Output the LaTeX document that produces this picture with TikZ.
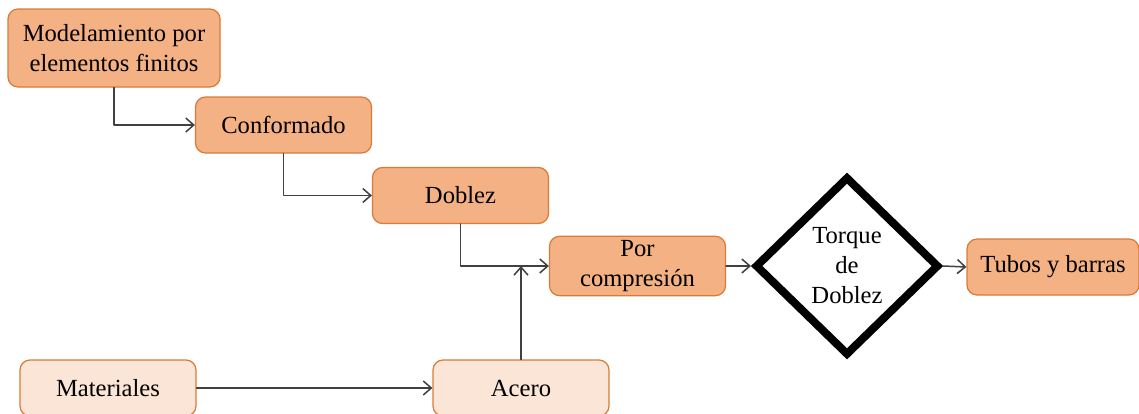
\documentclass[tikz,border=0pt]{standalone}
\usepackage{fontspec}
\setmainfont{Liberation Serif}
\usetikzlibrary{shapes.geometric,arrows.meta}
\definecolor{naranja}{HTML}{F4B183}
\definecolor{naranjaclaro}{HTML}{FBE5D6}
\definecolor{borde}{HTML}{D97A37}
\definecolor{linea}{HTML}{404040}
\begin{document}
\begin{tikzpicture}[x=0.5pt,y=-0.5pt,line cap=round,line join=round,>={Straight Barb[length=4pt,width=7pt]},
	caja/.style={draw=borde,fill=naranja,rounded corners=5pt,line width=0.6pt,minimum width=88pt,minimum height=28pt,align=center,inner sep=2pt,font=\fontsize{12.3}{15}\selectfont},
	cajaclara/.style={caja,fill=naranjaclaro},
	flecha/.style={->,draw=linea,line width=0.75pt}]
	\useasboundingbox (0,0) rectangle (1139,413);
	\node[caja,minimum width=106pt,minimum height=39pt] (modelo) at (114,48) {Modelamiento por\\elementos finitos};
	\node[caja] (conformado) at (283.5,125) {Conformado};
	\node[caja] (doblez) at (460.5,195.5) {Doblez};
	\node[caja] (compresion) at (637.5,266) {Por\\compresión};
	\node[diamond,draw=black,fill=white,line width=4pt,line join=miter,minimum width=92pt,minimum height=89.5pt,inner sep=0pt,align=center,font=\fontsize{12.3}{15}\selectfont] (torque) at (847,266) {Torque\\de\\Doblez};
	\node[caja,minimum width=86pt] (tubos) at (1053,267) {Tubos y barras};
	\node[cajaclara] (materiales) at (108,388) {Materiales};
	\node[cajaclara] (acero) at (521,388) {Acero};
	\draw[flecha] (modelo.south) |- (conformado.west);
	\draw[flecha] (conformado.south) |- (doblez.west);
	\draw[flecha] (doblez.south) |- (compresion.west);
	\draw[flecha] (acero.north) -- (acero.north |- compresion.west);
	\draw[flecha] (materiales.east) -- (acero.west);
	\draw[flecha] (compresion.east) -- (torque.west);
	\draw[flecha] (torque.east) -- (tubos.west);
	\end{tikzpicture}
\end{document}
